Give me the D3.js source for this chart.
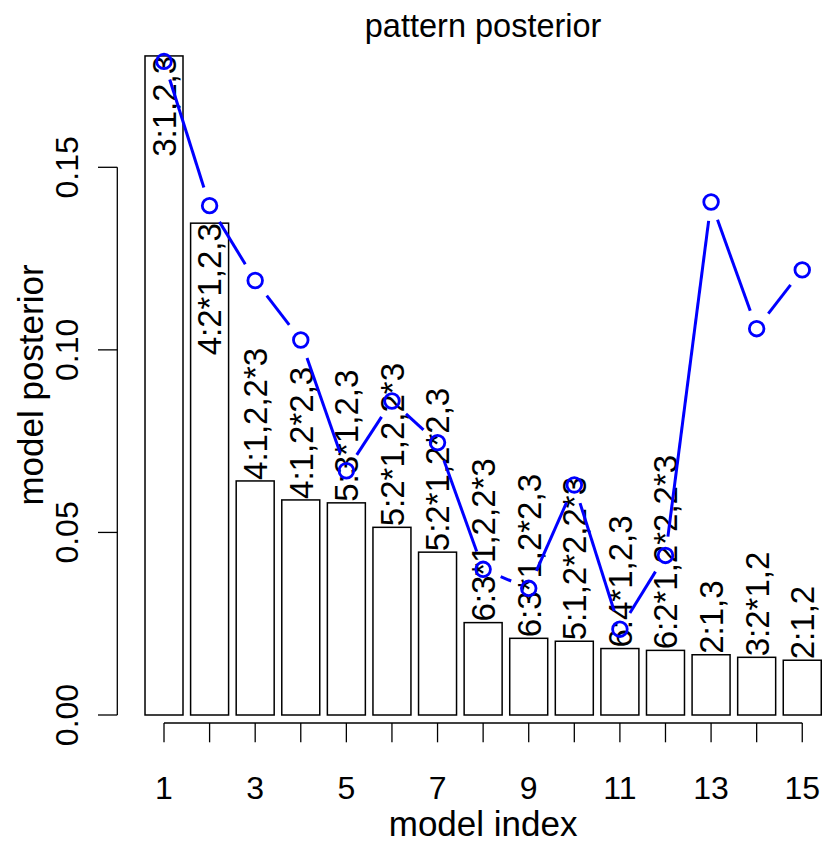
<!DOCTYPE html>
<html>
<head>
<meta charset="utf-8">
<script src="https://cdn.jsdelivr.net/npm/d3@7"></script>
<style>
  html, body { margin: 0; padding: 0; background: #fff; }
  svg { display: block; }
  text { font-family: "Liberation Sans", Arial, Helvetica, sans-serif; fill: #000; }
</style>
</head>
<body>
<svg id="chart" width="824" height="843"></svg>
<script>
// Model index, posterior of each model (bars) and pattern posterior (blue line)
const modelIndex = [1, 2, 3, 4, 5, 6, 7, 8, 9, 10, 11, 12, 13, 14, 15];
const modelPosterior = [0.1805, 0.1347, 0.0641, 0.0589, 0.0581, 0.0514, 0.0446,
                        0.0253, 0.0210, 0.0202, 0.0182, 0.0177, 0.0165, 0.0158, 0.0150];
const patternPosterior = [0.1790, 0.1395, 0.1190, 0.1027, 0.0669, 0.0860, 0.0746,
                          0.0399, 0.0347, 0.0630, 0.0235, 0.0437, 0.1405, 0.1058, 0.1219];
const modelLabels = ["3:1,2,3", "4:2*1,2,3", "4:1,2,2*3", "4:1,2*2,3", "5:3*1,2,3",
                     "5:2*1,2,2*3", "5:2*1,2*2,3", "6:3*1,2,2*3", "6:3*1,2*2,3",
                     "5:1,2*2,2*3", "6:4*1,2,3", "6:2*1,2*2,2*3", "2:1,3", "3:2*1,2", "2:1,2"];
const yTicks = [0.00, 0.05, 0.10, 0.15];
const xTickLabels = ["1", "", "3", "", "5", "", "7", "", "9", "", "11", "", "13", "", "15"];

const svg = d3.select("#chart");

// barplot-style user coordinates: bar i centred at 0.7 + 1.2*(i-1), width 1
const barCenter = i => 0.7 + 1.2 * (i - 1);
const x = d3.scaleLinear().domain([-0.512, 18.712]).range([117.96, 848.3]);
const y = d3.scaleLinear().domain([0, 0.15]).range([715, 167.3]);

// bars
svg.append("g").selectAll("rect")
  .data(modelIndex)
  .join("rect")
  .attr("x", i => x(barCenter(i) - 0.5))
  .attr("width", i => x(barCenter(i) + 0.5) - x(barCenter(i) - 0.5))
  .attr("y", (i, k) => y(modelPosterior[k]))
  .attr("height", (i, k) => y(0) - y(modelPosterior[k]))
  .attr("fill", "#fff")
  .attr("stroke", "#000")
  .attr("stroke-width", 1.5);

// model labels, vertical; tall bars hold them inside, short ones above
const labelFont = 33;
svg.append("g").selectAll("text")
  .data(modelIndex)
  .join("text")
  .attr("transform", (i, k) => `translate(${x(barCenter(i))},${y(modelPosterior[k]) + (modelPosterior[k] > 0.1 ? 0 : -1)}) rotate(-90)`)
  .attr("dy", "0.36em")
  .attr("text-anchor", (i, k) => modelPosterior[k] > 0.1 ? "end" : "start")
  .attr("font-size", labelFont)
  .text((i, k) => modelLabels[k]);

// pattern posterior: open circles joined by segments that stop short of each point
const pts = modelIndex.map((i, k) => [x(barCenter(i)), y(patternPosterior[k])]);
const gap = 19;
const segs = [];
for (let k = 0; k < pts.length - 1; k++) {
  const [x0, y0] = pts[k], [x1, y1] = pts[k + 1];
  const len = Math.hypot(x1 - x0, y1 - y0);
  if (len > 2 * gap) {
    const ux = (x1 - x0) / len, uy = (y1 - y0) / len;
    segs.push([[x0 + ux * gap, y0 + uy * gap], [x1 - ux * gap, y1 - uy * gap]]);
  }
}
const line = d3.line();
svg.append("g").selectAll("path")
  .data(segs)
  .join("path")
  .attr("d", d => line(d))
  .attr("fill", "none")
  .attr("stroke", "#0000ff")
  .attr("stroke-width", 3);

svg.append("g").selectAll("circle")
  .data(pts)
  .join("circle")
  .attr("cx", d => d[0])
  .attr("cy", d => d[1])
  .attr("r", 7.3)
  .attr("fill", "none")
  .attr("stroke", "#0000ff")
  .attr("stroke-width", 2.8);

// y axis
const yAxis = svg.append("g").attr("transform", "translate(117.3,0)");
yAxis.append("line")
  .attr("y1", y(0)).attr("y2", y(0.15))
  .attr("stroke", "#000").attr("stroke-width", 1.3);
yAxis.selectAll("line.tick")
  .data(yTicks)
  .join("line")
  .attr("class", "tick")
  .attr("x1", 0).attr("x2", -19.3)
  .attr("y1", d => y(d)).attr("y2", d => y(d))
  .attr("stroke", "#000").attr("stroke-width", 1.3);
yAxis.selectAll("text")
  .data(yTicks)
  .join("text")
  .attr("transform", d => `translate(-39.8,${y(d)}) rotate(-90)`)
  .attr("text-anchor", "middle")
  .attr("font-size", 32)
  .text(d => d3.format(".2f")(d));

// x axis
const xAxis = svg.append("g").attr("transform", "translate(0,723)");
xAxis.append("line")
  .attr("x1", x(barCenter(1))).attr("x2", x(barCenter(15)))
  .attr("stroke", "#000").attr("stroke-width", 1.3);
xAxis.selectAll("line.tick")
  .data(modelIndex)
  .join("line")
  .attr("class", "tick")
  .attr("x1", i => x(barCenter(i))).attr("x2", i => x(barCenter(i)))
  .attr("y1", 0).attr("y2", 19.3)
  .attr("stroke", "#000").attr("stroke-width", 1.3);
xAxis.selectAll("text")
  .data(modelIndex)
  .join("text")
  .attr("x", i => x(barCenter(i)))
  .attr("y", 76)
  .attr("text-anchor", "middle")
  .attr("font-size", 32)
  .text((i, k) => xTickLabels[k]);

// titles
const plotMid = (x.range()[0] + x.range()[1]) / 2;
svg.append("text")
  .attr("x", plotMid).attr("y", 37)
  .attr("text-anchor", "middle")
  .attr("font-size", 32.5)
  .text("pattern posterior");
svg.append("text")
  .attr("x", plotMid).attr("y", 836)
  .attr("text-anchor", "middle")
  .attr("font-size", 35)
  .text("model index");
svg.append("text")
  .attr("transform", `translate(43,385) rotate(-90)`)
  .attr("text-anchor", "middle")
  .attr("font-size", 35)
  .text("model posterior");
</script>
</body>
</html>
